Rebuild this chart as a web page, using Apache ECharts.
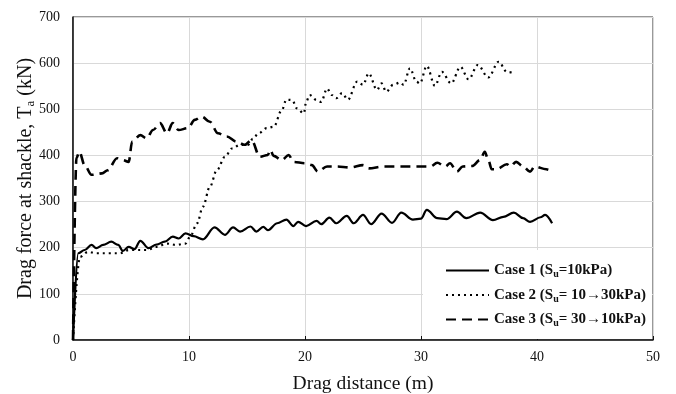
<!DOCTYPE html>
<html>
<head>
<meta charset="utf-8">
<script src="https://cdn.jsdelivr.net/npm/echarts@6/dist/echarts.min.js"></script>
<style>
  html, body { margin: 0; padding: 0; background: #fff; }
  #main { width: 676px; height: 394px; }
</style>
</head>
<body>
<div id="main"></div>
<script>
// Case 1 (Su = 10 kPa)
var dist1 = [0, 0.45, 1.0, 1.6, 2.0, 2.6, 3.3, 3.9, 4.3, 4.8, 5.3, 5.8, 6.5, 7.2, 7.9, 8.6, 9.1, 9.7, 10.4, 11.2,
  12.2, 13.1, 13.8, 14.4, 15.3, 15.8, 16.4, 16.8, 17.6, 18.4, 19.0, 19.4, 20.1, 21.0, 21.4, 22.1, 22.7, 23.6, 24.2,
  25.0, 25.7, 26.6, 27.5, 28.3, 29.3, 30.0, 30.5, 31.4, 32.2, 33.1, 33.9, 35.1, 36.2, 37.1, 38.0, 38.8, 39.4, 40.3, 40.7, 41.3];
var force1 = [0, 188, 195, 206, 199, 206, 213, 206, 193, 202, 197, 215, 199, 207, 213, 224, 220, 231, 225, 218,
  244, 228, 244, 235, 246, 235, 245, 238, 253, 261, 247, 256, 247, 258, 251, 265, 253, 269, 253,
  271, 251, 274, 254, 276, 261, 263, 282, 264, 262, 278, 264, 276, 260, 267, 276, 264, 256, 266, 271, 253];

// Case 2 (Su = 10 -> 30 kPa)
var dist2 = [0, 0.6, 1.3, 2.0, 3.2, 4.05, 4.8, 5.5, 6.35, 7.2, 8.1, 8.9, 9.7, 10.1, 10.7, 11.2, 11.8, 12.4, 13.1, 13.7,
  14.4, 15.1, 15.5, 16.0, 16.7, 17.3, 18.0, 18.4, 18.9, 19.3, 19.9, 20.1, 20.4, 21.0, 21.4, 21.9, 22.3, 22.7, 23.2, 23.7,
  24.5, 25.0, 25.5, 26.2, 26.6, 27.0, 27.6, 28.2, 28.5, 29.05, 29.6, 29.9, 30.5, 31.2, 31.8, 32.6, 33.4, 34.1, 34.9,
  35.8, 36.7, 37.4, 38.1];
var force2 = [0, 180, 191, 188, 188, 188, 195, 195, 195, 202, 209, 206, 209, 224, 253, 289, 332, 368, 397, 415,
  423, 423, 436, 448, 459, 462, 498, 521, 520, 502, 491, 516, 531, 520, 516, 545, 531, 524, 535, 521,
  560, 553, 578, 542, 556, 538, 553, 558, 553, 589, 560, 556, 594, 551, 581, 556, 592, 565, 596,
  569, 603, 581, 578];

// Case 3 (Su = 30 -> 10 kPa)
var dist3 = [0, 0.3, 0.55, 1.0, 1.6, 2.5, 3.0, 3.8, 4.3, 4.8, 5.1, 5.8, 6.35, 6.9, 7.5, 8.1, 8.6, 9.1, 9.9, 10.5,
  11.1, 11.8, 12.5, 13.25, 14.1, 14.8, 15.4, 16.1, 16.8, 17.0, 17.3, 18.0, 18.6, 19.0, 20.0, 20.6, 21.1, 21.9, 22.7,
  23.9, 25.0, 25.5, 26.75, 28.2, 29.6, 30.8, 31.4, 32.1, 32.5, 33.1, 33.6, 34.4, 35.1, 35.5, 35.8, 36.1, 36.5,
  37.4, 37.7, 38.2, 38.8, 39.4, 39.8, 40.8, 41.0];
var force3 = [0, 395, 408, 379, 358, 361, 368, 394, 390, 386, 430, 444, 437, 455, 470, 448, 470, 455, 459, 477,
  484, 473, 448, 441, 430, 423, 433, 397, 401, 412, 399, 390, 401, 386, 383, 379, 365, 376, 376,
  374, 379, 372, 376, 376, 376, 376, 384, 376, 383, 365, 376, 377, 390, 408, 390, 370, 370,
  381, 376, 386, 376, 365, 376, 370, 369];

var legendText = {
  'Case 1': '{b|Case 1 (S}{s|u}{b|=10kPa)}',
  'Case 2': '{b|Case 2 (S}{s|u}{b|= 10\u219230kPa)}',
  'Case 3': '{b|Case 3 (S}{s|u}{b|= 30\u219210kPa)}'
};

function pairs(xs, ys) {
  var out = [];
  for (var i = 0; i < xs.length; i++) {
    out.push([xs[i], ys[i]]);
  }
  return out;
}

var serif = 'Liberation Serif, Times New Roman, serif';

var option = {
  backgroundColor: '#fff',
  animation: false,
  grid: {
    left: 73, right: 23, top: 17, bottom: 54,
    outerBoundsMode: 'none',
    show: true, borderColor: '#333', borderWidth: 1
  },
  graphic: [{
    type: 'rect', z: 1,
    shape: { x: 423, y: 250, width: 229, height: 89 },
    style: { fill: '#fff' }
  }],
  legend: {
    orient: 'vertical',
    left: 440, top: 258,
    itemWidth: 43, itemHeight: 10, itemGap: 8,
    data: ['Case 1', 'Case 2', 'Case 3'],
    itemStyle: { opacity: 0 },
    formatter: function (name) { return legendText[name]; },
    textStyle: {
      rich: {
        b: { fontFamily: serif, fontSize: 15, fontWeight: 'bold', color: '#111', lineHeight: 18 },
        s: { fontFamily: serif, fontSize: 10, fontWeight: 'bold', color: '#111', verticalAlign: 'bottom', lineHeight: 18 }
      }
    }
  },
  xAxis: {
    type: 'value', min: 0, max: 50, interval: 10,
    name: 'Drag distance (m)', nameLocation: 'middle', nameGap: 34,
    nameMoveOverlap: false,
    nameTextStyle: { fontFamily: serif, fontSize: 19.5, color: '#111' },
    axisLine: { lineStyle: { color: '#111', width: 1.5 } },
    axisTick: { show: true, inside: true, length: 4, lineStyle: { color: '#111' } },
    axisLabel: { fontFamily: serif, fontSize: 14, color: '#111', margin: 10 },
    splitLine: { lineStyle: { color: '#d9d9d9', width: 1 } }
  },
  yAxis: {
    type: 'value', min: 0, max: 700, interval: 100,
    name: '{n|Drag force at shackle, T}{s|a}{n| (kN)}', nameLocation: 'middle', nameGap: 36,
    nameMoveOverlap: false,
    nameTextStyle: {
      rich: {
        n: { fontFamily: serif, fontSize: 20, color: '#111', lineHeight: 22 },
        s: { fontFamily: serif, fontSize: 13, color: '#111', verticalAlign: 'bottom', lineHeight: 22 }
      }
    },
    axisLine: { show: true, lineStyle: { color: '#111', width: 1.5 } },
    axisTick: { show: false },
    axisLabel: { fontFamily: serif, fontSize: 14, color: '#111', margin: 13 },
    splitLine: { lineStyle: { color: '#d9d9d9', width: 1 } }
  },
  series: [
    {
      name: 'Case 1', type: 'line', data: pairs(dist1, force1),
      showSymbol: false, symbol: 'none', smooth: 0.35, smoothMonotone: 'x',
      lineStyle: { color: '#000', width: 2.2, type: 'solid' },
      itemStyle: { color: '#000' }
    },
    {
      name: 'Case 2', type: 'line', data: pairs(dist2, force2),
      showSymbol: false, symbol: 'none', smooth: 0.35, smoothMonotone: 'x',
      lineStyle: { color: '#000', width: 2.2, type: [2, 4] },
      itemStyle: { color: '#000' }
    },
    {
      name: 'Case 3', type: 'line', data: pairs(dist3, force3),
      showSymbol: false, symbol: 'none', smooth: 0.35, smoothMonotone: 'x',
      lineStyle: { color: '#000', width: 2.6, type: [10, 6] },
      itemStyle: { color: '#000' }
    }
  ]
};

var myChart = echarts.init(document.getElementById('main'));
myChart.setOption(option);
</script>
</body>
</html>
